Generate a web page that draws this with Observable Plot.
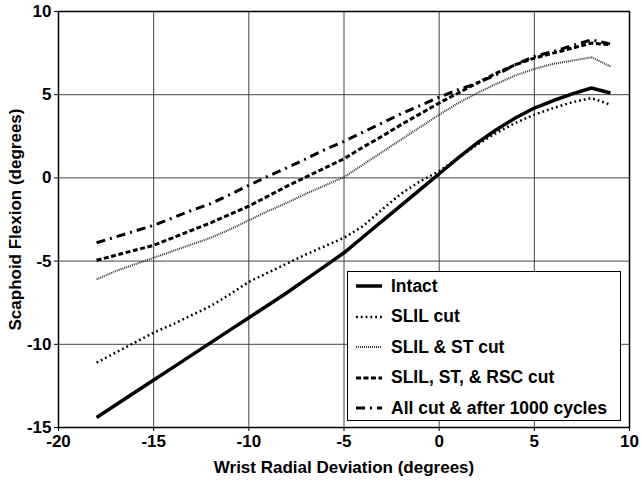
<!DOCTYPE html>
<html><head><meta charset="utf-8">
<script src="https://cdn.jsdelivr.net/npm/d3@7"></script>
<script src="https://cdn.jsdelivr.net/npm/@observablehq/plot@0.6"></script>
<style>
body{margin:0;background:#fff;}
#wrap{position:relative;width:642px;height:483px;font-family:"Liberation Sans",Arial,sans-serif;}
#legend{position:absolute;left:347px;top:271px;width:272px;height:148px;border:1.5px solid #000;background:#fff;font-weight:bold;font-size:17.5px;}
.row{position:absolute;left:8px;height:20px;display:flex;align-items:center;}
.row svg{margin-right:9px;}
</style>
</head><body><div id="wrap"></div>
<script>
const deviation = [-18,-17,-16,-15,-14,-13,-12,-11,-10,-9,-8,-7,-6,-5,-4,-3,-2,-1,0,1,2,3,4,5,6,7,8,9];
const intact   = [-14.4,-13.65,-12.9,-12.15,-11.4,-10.65,-9.9,-9.15,-8.4,-7.65,-6.9,-6.1,-5.3,-4.5,-3.55,-2.6,-1.65,-0.7,0.25,1.2,2.1,2.9,3.6,4.2,4.65,5.05,5.4,5.1];
const slil     = [-11.1,-10.5,-9.9,-9.3,-8.8,-8.25,-7.7,-7.0,-6.25,-5.7,-5.15,-4.6,-4.1,-3.6,-2.9,-1.9,-0.95,-0.2,0.4,1.2,2.0,2.7,3.3,3.8,4.2,4.55,4.8,4.4];
const slilSt   = [-6.1,-5.6,-5.2,-4.8,-4.4,-4.0,-3.6,-3.1,-2.55,-2.0,-1.5,-0.95,-0.45,0.05,0.8,1.55,2.3,3.05,3.8,4.5,5.1,5.65,6.15,6.55,6.85,7.05,7.25,6.7];
const slilStRsc= [-4.95,-4.65,-4.35,-4.05,-3.6,-3.15,-2.7,-2.2,-1.7,-1.1,-0.5,0.05,0.6,1.15,1.85,2.5,3.2,3.85,4.5,5.1,5.7,6.3,6.8,7.2,7.5,7.8,8.1,8.0];
const allCut   = [-3.9,-3.55,-3.2,-2.85,-2.4,-1.95,-1.55,-1.0,-0.45,0.1,0.6,1.15,1.7,2.2,2.75,3.3,3.85,4.35,4.85,5.3,5.7,6.2,6.8,7.3,7.6,7.95,8.3,8.05];
const seriesNames = ["Intact","SLIL cut","SLIL & ST cut","SLIL, ST, & RSC cut","All cut & after 1000 cycles"];
const xTicks = [-20,-15,-10,-5,0,5,10];
const yTicks = [-15,-10,-5,0,5,10];

const styles = [
  {strokeWidth:3.5, dash:null, stroke:"#000"},
  {strokeWidth:2.5, dash:"1.8,3", stroke:"#000"},
  {strokeWidth:2, dash:"1,1", stroke:"#333"},
  {strokeWidth:3, dash:"5,2.5", stroke:"#000"},
  {strokeWidth:3, dash:"9,5,2,5", stroke:"#000"}
];
const values = [intact, slil, slilSt, slilStRsc, allCut];
const table = values.map(v => deviation.map((x,i)=>({x, y:v[i]})));

const lineMarks = table.map((d,k)=>Plot.line(d,{x:"x",y:"y",stroke:styles[k].stroke,strokeWidth:styles[k].strokeWidth,strokeDasharray:styles[k].dash,strokeLinecap:"butt"}));
const fmt = d => String(d);

const chart = Plot.plot({
  width:642, height:483,
  marginLeft:58, marginRight:13, marginTop:11, marginBottom:56,
  style:{fontFamily:"'Liberation Sans', Arial, sans-serif", fontSize:"18.7px", fontWeight:"bold", color:"#000", background:"#fff"},
  x:{domain:[-20,10]},
  y:{domain:[-15,10]},
  marks:[
    Plot.gridX(xTicks,{stroke:"#444",strokeOpacity:1,strokeWidth:1}),
    Plot.gridY(yTicks,{stroke:"#444",strokeOpacity:1,strokeWidth:1}),
    ...lineMarks,
    Plot.frame({stroke:"#000",strokeWidth:1.5}),
    Plot.axisX({ticks:xTicks, tickFormat:fmt, tickSize:4, tickPadding:3, fontSize:17, label:"Wrist Radial Deviation (degrees)", labelAnchor:"center", labelOffset:45, labelArrow:"none"}),
    Plot.axisY({ticks:yTicks, tickFormat:fmt, tickSize:4, tickPadding:3, fontSize:17, label:"Scaphoid Flexion (degrees)", labelAnchor:"center", labelOffset:50, labelArrow:"none"})
  ]
});
const wrap = document.getElementById("wrap");
wrap.appendChild(chart);

const legend = document.createElement("div");
legend.id = "legend";
seriesNames.forEach((name,k)=>{
  const row = document.createElement("div");
  row.className="row";
  row.style.top = (4 + k*30.5) + "px";
  const s = styles[k];
  row.innerHTML = `<svg width="26" height="10"><line x1="0" x2="26" y1="5" y2="5" stroke="${s.stroke}" stroke-width="${s.strokeWidth}" ${s.dash?`stroke-dasharray="${s.dash}"`:""}/></svg><span>${name}</span>`;
  legend.appendChild(row);
});
wrap.appendChild(legend);
</script></body></html>
